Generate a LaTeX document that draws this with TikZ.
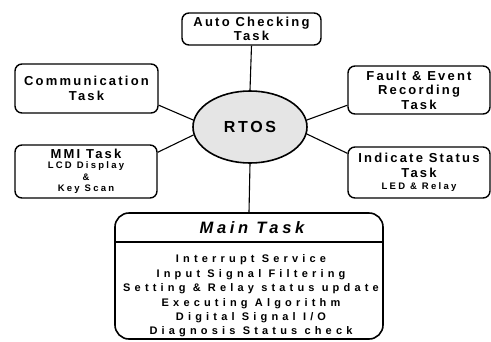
\documentclass[tikz,border=0pt]{standalone}
\usepackage{fontspec}
\setmainfont{Liberation Sans}
\newfontfamily\taskfont[LetterSpace=17]{Liberation Sans Bold}
\newfontfamily\smallfont[LetterSpace=24]{Liberation Sans Bold}
\newfontfamily\headfont[LetterSpace=22]{Liberation Sans Bold Italic}
\newfontfamily\listfont[LetterSpace=38]{Liberation Sans Bold}
\usetikzlibrary{shapes.geometric}

% smaller lines inside the task boxes
\newcommand{\subfont}{\smallfont\fontsize{9.5}{11}\selectfont}

\begin{document}
\begin{tikzpicture}[x=1pt,y=-1pt,
    task/.style={draw, line width=1.4pt, rounded corners=7pt, align=center,
      inner sep=0pt, font=\taskfont\fontsize{13}{14.5}\selectfont},
    link/.style={line width=1.1pt}]
    \useasboundingbox (0,0) rectangle (491,341);

    % kernel in the middle
    \node[ellipse, draw, line width=1.6pt, fill=gray!20, minimum width=114pt,
      minimum height=72pt, inner sep=0pt,
      font=\taskfont\fontsize{16}{18}\selectfont] (rtos) at (250,127) {RTOS};

    % tasks around it
    \node[task, minimum width=139pt, minimum height=32pt] (auto) at (251.5,29)
      {Auto Checking\\Task};
    \node[task, minimum width=143pt, minimum height=49pt] (comm) at (86.5,88.5)
      {Communication\\Task};
    \node[task, minimum width=142pt, minimum height=48pt] (fault) at (419,90)
      {Fault \& Event\\Recording\\Task};
    \node[task, minimum width=142pt, minimum height=53pt] (mmi) at (86,171.5)
      {MMI Task\\[-4pt]\subfont LCD Display\\[-3pt]\subfont\&\\[-3pt]\subfont Key Scan};
    \node[task, minimum width=142pt, minimum height=51pt] (indicate) at (419,172.5)
      {Indicate Status\\Task\\[-2pt]\subfont LED \& Relay};

    % main task box with its heading
    \node[draw, line width=1.6pt, rounded corners=14pt, minimum width=268pt,
      minimum height=126pt] (main) at (249,276) {};
    \node[font=\headfont\fontsize{16.5}{18}\selectfont] (head) at (252,228) {Main Task};
    \draw[line width=1.6pt] (main.west |- 0,242) -- (main.east |- 0,242);
    \node[align=center, font=\listfont\fontsize{11}{14.4}\selectfont] (jobs) at (251,296)
      {Interrupt Service\\Input Signal Filtering\\Setting \& Relay status update\\
       Executing Algorithm\\Digital Signal I/O\\Diagnosis Status check};

    % links to the kernel
    \draw[link] (auto.south) -- (rtos.north);
    \draw[link] (comm.-13) -- (rtos.173);
    \draw[link] (mmi.15) -- (rtos.188);
    \draw[link] (fault.192) -- (rtos.7);
    \draw[link] (indicate.165) -- (rtos.-7);
    \draw[link] (rtos.south) -- (main.north);
\end{tikzpicture}
\end{document}
